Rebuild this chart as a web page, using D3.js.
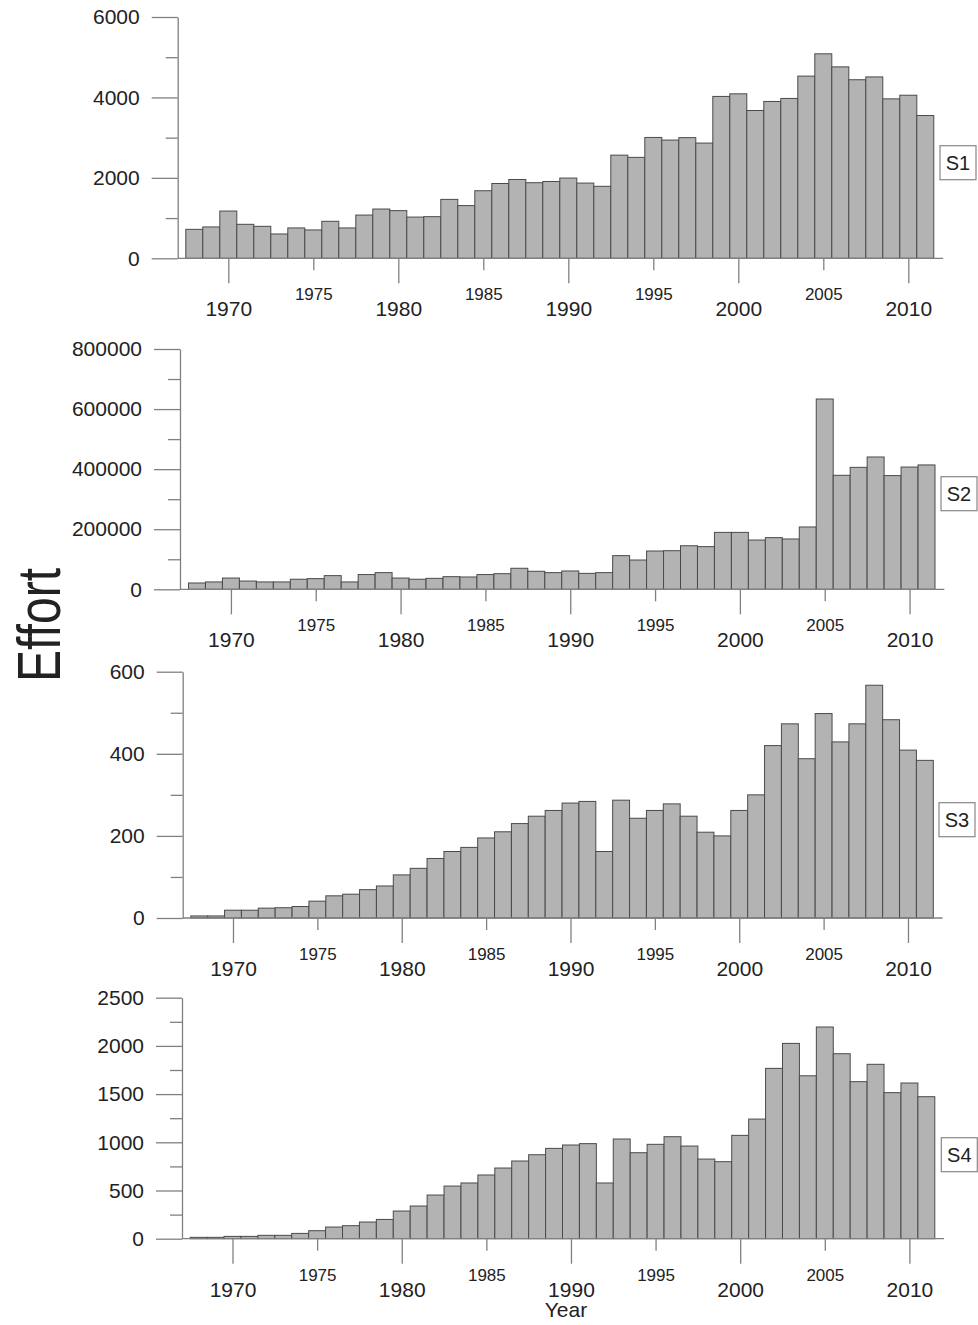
<!DOCTYPE html>
<html>
<head>
<meta charset="utf-8">
<script src="https://cdn.jsdelivr.net/npm/d3@7"></script>
<style>
  html, body { margin: 0; padding: 0; background: #fff; }
  svg { display: block; }
  text { font-family: "Liberation Sans", Arial, sans-serif; fill: #222; }
</style>
</head>
<body>
<svg id="chart" width="978" height="1325"></svg>
<script>
// ---------------- DATA ----------------
const years = [1968,1969,1970,1971,1972,1973,1974,1975,1976,1977,
               1978,1979,1980,1981,1982,1983,1984,1985,1986,1987,
               1988,1989,1990,1991,1992,1993,1994,1995,1996,1997,
               1998,1999,2000,2001,2002,2003,2004,2005,2006,2007,
               2008,2009,2010,2011];

const s1 = [720,780,1175,845,795,605,755,705,920,755,
            1075,1225,1185,1025,1035,1465,1310,1680,1860,1960,
            1880,1910,1995,1870,1790,2565,2510,3005,2940,3000,
            2865,4025,4090,3675,3900,3975,4530,5085,4760,4440,
            4510,3965,4055,3550];

const s2 = [21000,24500,37500,27500,24500,24500,33500,35500,45500,24500,
            49000,55500,37500,33500,36500,42000,41000,49000,52000,70000,
            60000,55500,61000,53000,55500,112000,97500,127500,128500,145000,
            142000,189500,189500,164000,172000,167500,207500,633500,379500,406000,
            440500,378500,407000,414000];

const s3 = [5,5,19,19,24,25,28,41,54,58,
            69,78,105,121,145,162,172,195,210,230,
            248,262,280,284,162,287,243,262,278,248,
            209,200,262,300,420,473,388,498,429,473,
            567,483,409,384];

const s4 = [14,14,24,24,35,35,55,83,121,135,
            173,200,287,339,453,546,578,661,733,806,
            871,937,972,986,578,1034,892,979,1058,961,
            826,799,1072,1241,1767,2026,1690,2196,1919,1629,
            1809,1515,1615,1473];

const seriesNames = ["S1","S2","S3","S4"];

const yMajor1 = [0,2000,4000,6000];           const yMinor1 = [1000,3000,5000];
const yMajor2 = [0,200000,400000,600000,800000]; const yMinor2 = [100000,300000,500000,700000];
const yMajor3 = [0,200,400,600];              const yMinor3 = [100,300,500];
const yMajor4 = [0,500,1000,1500,2000,2500];  const yMinor4 = [250,750,1250,1750,2250];

const xMajor = [1970,1980,1990,2000,2010];
const xMinor = [1975,1985,1995,2005];

const yLabel = "Effort";
const xLabel = "Year";

// ---------------- LAYOUT ----------------
const panels = [
  {values: s1, name: seriesNames[0], major: yMajor1, minor: yMinor1, max: 6000,
   axisX: 177.7, yTop: 17, y0: 258.3, xL: 185.8, xR: 933.8, box: [940, 145.7]},
  {values: s2, name: seriesNames[1], major: yMajor2, minor: yMinor2, max: 800000,
   axisX: 180, yTop: 349, y0: 589.3, xL: 188.5, xR: 935, box: [941, 476.7]},
  {values: s3, name: seriesNames[2], major: yMajor3, minor: yMinor3, max: 600,
   axisX: 182.7, yTop: 671.7, y0: 918, xL: 190.8, xR: 933.3, box: [939, 802.7]},
  {values: s4, name: seriesNames[3], major: yMajor4, minor: yMinor4, max: 2500,
   axisX: 182, yTop: 997.7, y0: 1238.7, xL: 190.2, xR: 934.8, box: [941.3, 1137.7]}
];

const axisColor = "#808080";
const barFill = "#b3b3b3";
const barStroke = "#4a4a4a";

const svg = d3.select("#chart");

panels.forEach(p => {
  const g = svg.append("g");
  const x = d3.scaleLinear().domain([1967.5, 2011.5]).range([p.xL, p.xR]);
  const y = d3.scaleLinear().domain([0, p.max]).range([p.y0, p.yTop]);

  // bars
  g.selectAll("rect.bar").data(years.map((yr, i) => ({yr, v: p.values[i]})))
    .enter().append("rect")
    .attr("class", "bar")
    .attr("x", d => x(d.yr - 0.5))
    .attr("width", d => x(d.yr + 0.5) - x(d.yr - 0.5))
    .attr("y", d => y(d.v))
    .attr("height", d => y(0) - y(d.v))
    .attr("fill", barFill)
    .attr("stroke", barStroke)
    .attr("stroke-width", 1);

  // baseline
  g.append("line")
    .attr("x1", p.axisX).attr("x2", x(2012.05))
    .attr("y1", y(0)).attr("y2", y(0))
    .attr("stroke", axisColor).attr("stroke-width", 1.3);

  // y axis major
  const yAxMaj = g.append("g").attr("transform", `translate(${p.axisX},0)`)
    .call(d3.axisLeft(y).tickValues(p.major).tickSize(26).tickSizeOuter(0).tickPadding(12)
      .tickFormat(d3.format("d")));
  // y axis minor
  const yAxMin = g.append("g").attr("transform", `translate(${p.axisX},0)`)
    .call(d3.axisLeft(y).tickValues(p.minor).tickSize(12).tickSizeOuter(0).tickFormat(""));
  yAxMin.select(".domain").remove();

  // x axis major
  const xAxMaj = g.append("g").attr("transform", `translate(0,${p.y0})`)
    .call(d3.axisBottom(x).tickValues(xMajor).tickSize(25).tickPadding(18).tickFormat(d3.format("d")));
  xAxMaj.select(".domain").remove();
  const xAxMin = g.append("g").attr("transform", `translate(0,${p.y0})`)
    .call(d3.axisBottom(x).tickValues(xMinor).tickSize(12).tickPadding(18).tickFormat(d3.format("d")));
  xAxMin.select(".domain").remove();

  [yAxMaj, yAxMin, xAxMaj, xAxMin].forEach(a => {
    a.selectAll("path, line").attr("stroke", axisColor).attr("stroke-width", 1.3);
    a.selectAll("text").attr("fill", "#222").attr("font-family", '"Liberation Sans", Arial, sans-serif');
  });
  yAxMaj.selectAll("text").attr("font-size", 21);
  xAxMaj.selectAll("text").attr("font-size", 21);
  xAxMin.selectAll("text").attr("font-size", 17);

  // series label box
  const bw = 36, bh = 34;
  g.append("rect")
    .attr("x", p.box[0]).attr("y", p.box[1]).attr("width", bw).attr("height", bh)
    .attr("fill", "#fff").attr("stroke", "#888").attr("stroke-width", 1.2);
  g.append("text")
    .attr("x", p.box[0] + bw / 2).attr("y", p.box[1] + bh / 2 + 7.5)
    .attr("text-anchor", "middle").attr("font-size", 20)
    .text(p.name);
});

// axis titles
svg.append("text")
  .attr("transform", "translate(60,625) rotate(-90)")
  .attr("text-anchor", "middle")
  .attr("font-size", 62)
  .attr("textLength", 114).attr("lengthAdjust", "spacingAndGlyphs")
  .text(yLabel);

svg.append("text")
  .attr("x", 566).attr("y", 1317)
  .attr("text-anchor", "middle")
  .attr("font-size", 21)
  .text(xLabel);
</script>
</body>
</html>
